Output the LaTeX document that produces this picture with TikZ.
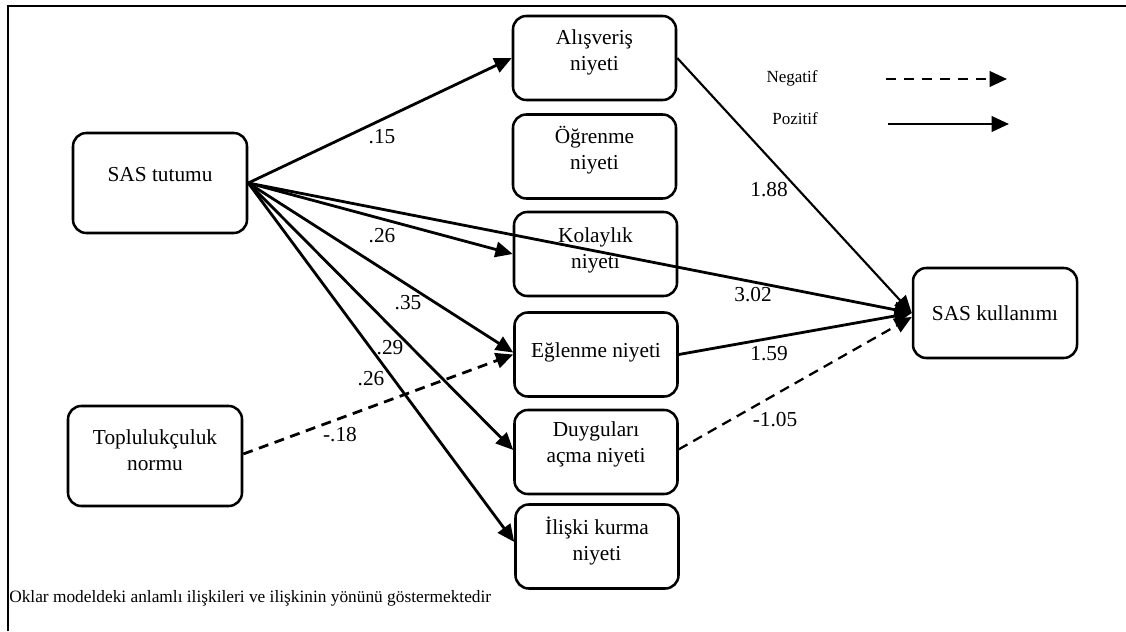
\documentclass[tikz,border=0pt]{standalone}
\usepackage{fontspec}
\setmainfont{Liberation Serif}
\usetikzlibrary{arrows.meta,calc}
\begin{document}
\begin{tikzpicture}[x=0.75pt,y=-0.75pt,
  box/.style={draw,line width=1.9pt,rounded corners=10pt,minimum width=122.25pt,minimum height=63pt,inner sep=0pt},
  bigbox/.style={box,minimum width=130.5pt,minimum height=75pt},
  txt/.style={font=\fontsize{16}{19.5}\selectfont,align=center,inner sep=0pt},
  num/.style={font=\fontsize{16}{19}\selectfont,inner sep=0pt},
  leg/.style={font=\fontsize{12.75}{15}\selectfont,inner sep=0pt},
  arr/.style={line width=2.1pt,-{Triangle[length=13pt,width=11.5pt]}},
  neg/.style={arr,dash pattern=on 7.5pt off 5pt},
  thinarr/.style={arr,line width=1.6pt},
  frame/.style={line width=1.5pt}]
\useasboundingbox (0,0) rectangle (1126,631);

% frame
\coordinate (fb) at (8,631);
\coordinate (fc) at (8,6);
\coordinate (fr) at (1126,6);
\draw[frame] (fb) -- (fc) -- (fr);

% boxes
\node[bigbox] (st) at (160,183) {};
\node[txt] (st-t) at (160,175) {SAS tutumu};
\node[bigbox] (tn) at (155,456) {};
\node[txt] (tn-t) at (155,450) {Toplulukçuluk\\normu};

\node[box] (a1) at (594.5,58) {};
\node[txt] (a1-t) at (594.5,52) {Alışveriş\\niyeti};
\node[box] (a2) at (594.5,156.5) {};
\node[txt] (a2-t) at (594.5,150) {Öğrenme\\niyeti};
\node[box] (a3) at (595.5,254) {};
\node[txt] (a3-t) at (595.5,250) {Kolaylık\\niyeti};
\node[box] (a4) at (596,354.5) {};
\node[txt] (a4-t) at (596,352) {Eğlenme niyeti};
\node[box] (a5) at (596,452) {};
\node[txt] (a5-t) at (596,444) {Duyguları\\açma niyeti};
\node[box] (a6) at (597,546.5) {};
\node[txt] (a6-t) at (597,541) {İlişki kurma\\niyeti};

\node[box,minimum width=123pt,minimum height=67.5pt] (sk) at (995,313) {};
\node[txt] (sk-t) at (995,313) {SAS kullanımı};

% connectors
\draw[arr] (st.east) -- (a1.west);
\draw[arr] (st.east) -- (a3.west);
\draw[arr] (st.east) -- (sk.west);
\draw[arr] (st.east) -- ([yshift=1.5pt]a4.west);
\draw[arr] (st.east) -- ([yshift=1.5pt]a5.west);
\draw[arr] (st.east) -- ([yshift=3.4pt]a6.west);
\draw[neg] ([yshift=1.5pt]tn.east) -- (a4.west);
\draw[thinarr] (a1.east) -- (sk.west);
\draw[arr] (a4.east) -- (sk.west);
\draw[neg,line width=1.7pt] ([yshift=2pt]a5.east) -- ([yshift=-3pt]sk.west);

% coefficients
\node[num] (c1) at (382,137) {.15};
\node[num] (c2) at (382,236) {.26};
\node[num] (c3) at (408,303) {.35};
\node[num] (c4) at (390,348) {.29};
\node[num] (c5) at (371,379) {.26};
\node[num] (c6) at (340,435) {-.18};
\node[num] (c7) at (769,190) {1.88};
\node[num] (c8) at (753,295) {3.02};
\node[num] (c9) at (769,354) {1.59};
\node[num] (c10) at (775,420) {-1.05};

% legend
\node[leg] (ln) at (792,78) {Negatif};
\node[leg] (lp) at (795,119) {Pozitif};
\coordinate (ln1) at (886,79);
\coordinate (ln2) at (1007,79);
\coordinate (lp1) at (888,124);
\coordinate (lp2) at (1009,124);
\draw[arr,dash pattern=on 7.5pt off 6pt] (ln1) -- (ln2);
\draw[arr] (lp1) -- (lp2);

% footnote
\node[leg,font=\fontsize{13}{15}\selectfont,anchor=west] (fn) at (9,598) {Oklar modeldeki anlamlı ilişkileri ve ilişkinin yönünü göstermektedir};
\end{tikzpicture}
\end{document}
